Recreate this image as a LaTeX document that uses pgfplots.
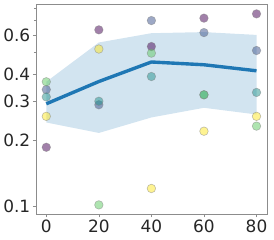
\documentclass[border=0pt]{standalone}
\usepackage{fontspec}
\setmainfont{DejaVu Sans}
\usepackage{pgfplots}
\pgfplotsset{compat=1.18}
\usepgfplotslibrary{fillbetween}
\definecolor{vpurple}{HTML}{440154}
\definecolor{vblue}{HTML}{3B528B}
\definecolor{vteal}{HTML}{21918C}
\definecolor{vgreen}{HTML}{5EC962}
\definecolor{vyellow}{HTML}{FDE725}
\definecolor{mplblue}{HTML}{1F77B4}
\begin{document}
\begin{tikzpicture}
\begin{axis}[
  scale only axis, width=232pt, height=211pt,
  ymode=log, xmin=-4, xmax=84, ymin=0.0915, ymax=0.833,
  xtick={0,20,40,60,80},
  ytick={0.1,0.2,0.3,0.4,0.6}, yticklabels={0.1,0.2,0.3,0.4,0.6},
  minor ytick={0.5,0.7,0.8},
  axis line style={gray!90}, tick style={gray!90}, major tick length=3pt, minor tick length=2pt,
  tick align=outside, xtick pos=bottom, ytick pos=left,
  /pgf/number format/assume math mode=true,
  tick label style={font=\fontsize{17}{20}\selectfont, text=black!85},
  xticklabel style={yshift=1pt}, yticklabel style={xshift=1pt},
  every axis plot/.append style={line join=round},
]
\addplot[name path=up, draw=none, forget plot] coordinates {(0,0.368) (20,0.556) (40,0.613) (60,0.620) (80,0.602)};
\addplot[name path=lo, draw=none, forget plot] coordinates {(0,0.240) (20,0.215) (40,0.253) (60,0.280) (80,0.261)};
\addplot[mplblue, fill opacity=0.2, draw=none] fill between[of=up and lo];
\addplot[mplblue, line width=3.4pt] coordinates {(0,0.292) (20,0.369) (40,0.453) (60,0.440) (80,0.413)};
\pgfplotsset{mk/.style={only marks, mark=*, mark size=4.3pt, mark options={draw=gray, fill=#1, fill opacity=0.5, draw opacity=0.5, line width=0.6pt}}}
\addplot[mk=vpurple] coordinates {(0,0.185) (20,0.635) (40,0.533) (60,0.718) (80,0.751)};
\addplot[mk=vblue] coordinates {(0,0.339) (20,0.289) (40,0.700) (60,0.617) (80,0.511)};
\addplot[mk=vteal] coordinates {(0,0.314) (20,0.300) (40,0.389) (60,0.321) (80,0.329)};
\addplot[mk=vgreen] coordinates {(0,0.368) (20,0.101) (40,0.497) (60,0.321) (80,0.231)};
\addplot[mk=vyellow] coordinates {(0,0.256) (20,0.519) (40,0.120) (60,0.219) (80,0.256)};
\end{axis}
\useasboundingbox (-35pt,-25pt) rectangle (239pt,215pt);
\end{tikzpicture}
\end{document}
